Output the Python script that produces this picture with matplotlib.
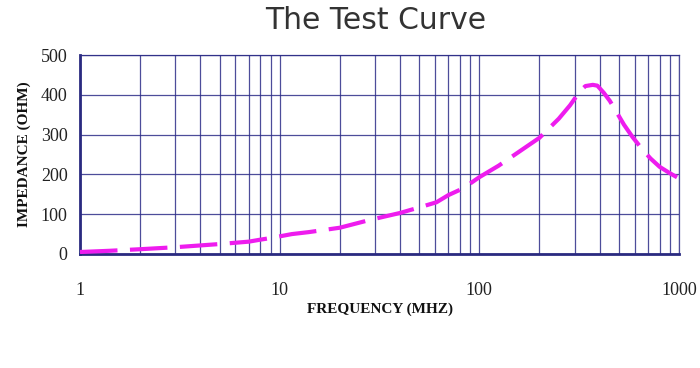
"""Impedance vs frequency test curve on a log frequency axis."""
import matplotlib
matplotlib.use("Agg")
import matplotlib.pyplot as plt
from matplotlib.ticker import FixedLocator, NullFormatter

# values
freq_mhz = [1, 1.4, 2, 3, 5, 7, 8, 9, 11.5, 14, 20, 28, 40, 50, 61, 70, 83,
            100, 125, 155, 200, 250, 285, 320, 340, 370, 390, 420, 450, 490,
            530, 585, 650, 720, 800, 900, 1000]
impedance = [5, 8, 12, 17, 25, 31, 36, 40, 50, 55, 66, 85, 103, 117, 130, 148,
             165, 193, 222, 254, 292, 340, 374, 410, 422, 425, 423, 405, 385,
             354, 325, 294, 265, 240, 219, 203, 190]

x_ticks = [1, 10, 100, 1000]
x_tick_labels = ["1", "10", "100", "1000"]
y_ticks = [0, 100, 200, 300, 400, 500]

GRID = "#2e2e88"
CURVE = "#ee1cee"
SERIF = ["Liberation Serif", "DejaVu Serif"]

fig = plt.figure(figsize=(7, 3.68), dpi=100)
ax = fig.add_axes([0.1143, 0.3098, 0.8557, 0.5407])

ax.plot(freq_mhz, impedance, color=CURVE, linewidth=3, dashes=[9, 3],
        solid_capstyle="butt", dash_capstyle="butt", zorder=3)

ax.set_xscale("log")
ax.set_xlim(1, 1000)
ax.set_ylim(0, 500)

minor = [m * d for d in (1, 10, 100) for m in range(2, 10)]
ax.xaxis.set_major_locator(FixedLocator(x_ticks))
ax.xaxis.set_minor_locator(FixedLocator(minor))
ax.xaxis.set_minor_formatter(NullFormatter())
ax.set_xticks(x_ticks, labels=x_tick_labels)
ax.set_yticks(y_ticks)

ax.grid(True, which="both", axis="x", color=GRID, linewidth=0.9, alpha=0.85)
ax.grid(True, which="major", axis="y", color=GRID, linewidth=0.9, alpha=0.85)

ax.tick_params(which="both", length=0)
ax.tick_params(axis="x", pad=20)
ax.tick_params(axis="y", pad=9)
for lbl in ax.get_xticklabels() + ax.get_yticklabels():
    lbl.set_family(SERIF)
    lbl.set_fontsize(13)
    lbl.set_color("#222222")

for side in ("top", "right"):
    ax.spines[side].set_color(GRID)
    ax.spines[side].set_linewidth(0.9)
    ax.spines[side].set_alpha(0.85)
for side in ("left", "bottom"):
    ax.spines[side].set_color("#2a2a80")
    ax.spines[side].set_linewidth(2)

ax.set_xlabel("FREQUENCY (MHZ)", family=SERIF, fontweight="bold",
              fontsize=11, color="#111111", labelpad=3)
ax.set_ylabel("IMPEDANCE (OHM)", family=SERIF, fontweight="bold",
              fontsize=11, color="#111111", labelpad=7)

fig.text(0.536, 0.943, "The Test Curve", ha="center", va="center",
         fontsize=21.5, color="#333333", family="DejaVu Sans")

fig.savefig("out.png", dpi=100, facecolor="white")
plt.close(fig)
